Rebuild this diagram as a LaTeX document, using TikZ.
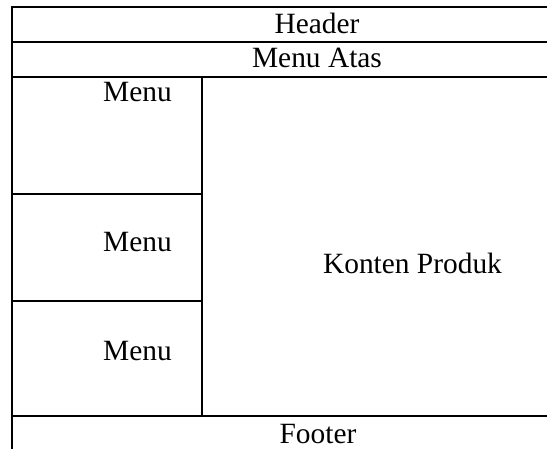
\documentclass[tikz,border=0pt]{standalone}
\usepackage{fontspec}
\setmainfont{Liberation Serif}
\begin{document}
\begin{tikzpicture}[x=1pt,y=-1pt,
  rule/.style={line width=1.7pt,line cap=rect},
  lbl/.style={anchor=base,inner sep=0pt,font=\fontsize{29.4}{35}\selectfont}]
\useasboundingbox (0,0) rectangle (547,449);
\coordinate (tl) at (12,7);
\coordinate (tr) at (547,7);
\coordinate (h1l) at (12,42);
\coordinate (h1r) at (547,42);
\coordinate (h2l) at (12,77);
\coordinate (h2r) at (547,77);
\coordinate (fl) at (12,416);
\coordinate (fr) at (547,416);
\coordinate (bl) at (12,449);
\coordinate (dv1) at (202,77);
\coordinate (dv2) at (202,416);
\coordinate (m1l) at (12,194);
\coordinate (m1r) at (202,194);
\coordinate (m2l) at (12,301);
\coordinate (m2r) at (202,301);
\begin{scope}
\clip (0,0) rectangle (547,449);
\draw[rule] (tl) -- (tr);
\draw[rule] (h1l) -- (h1r);
\draw[rule] (h2l) -- (h2r);
\draw[rule] (fl) -- (fr);
\draw[rule] (tl) -- (bl);
\draw[rule] (dv1) -- (dv2);
\draw[rule] (m1l) -- (m1r);
\draw[rule] (m2l) -- (m2r);
\end{scope}
\node[lbl] (header) at (317,33.3) {Header};
\node[lbl] (menuatas) at (317,67.3) {Menu Atas};
\node[lbl,anchor=base west] (menu1) at (103,101.7) {Menu};
\node[lbl,anchor=base west] (menu2) at (103,251.7) {Menu};
\node[lbl,anchor=base west] (menu3) at (103,361) {Menu};
\node[lbl] (konten) at (412.5,273.3) {Konten Produk};
\node[lbl] (footer) at (318,443) {Footer};
\end{tikzpicture}
\end{document}
